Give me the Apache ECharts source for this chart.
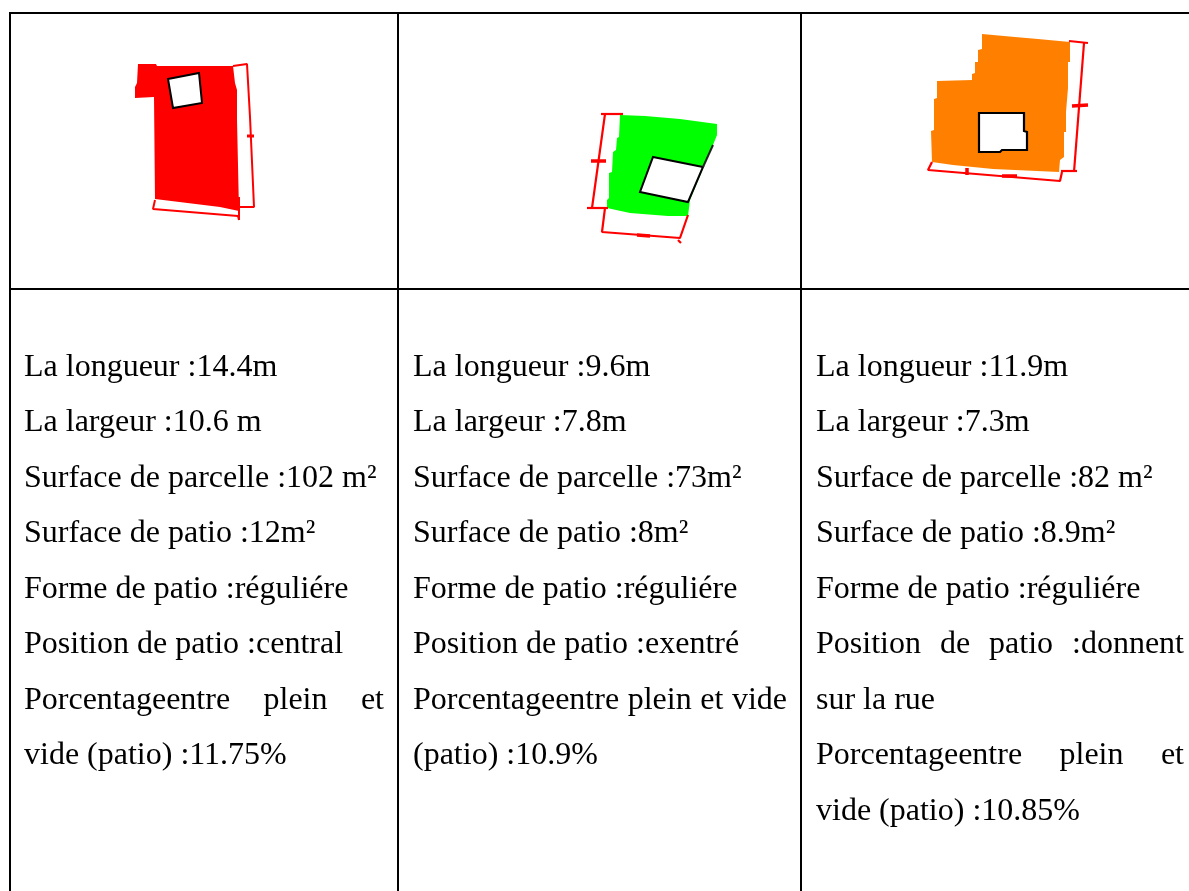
<!DOCTYPE html>
<html><head><meta charset="utf-8">
<style>html,body{margin:0;padding:0;background:#fff}#c{width:1189px;height:891px}</style>
<script src="https://cdn.jsdelivr.net/npm/echarts@6/dist/echarts.min.js"></script>
</head><body><div id="c"></div>
<script>
// Plan shapes (picture pixels)
const redParcel=[[138,64],[156,64],[157,66],[233,66],[235,83],[237,90],[237,120],[238,165],[239,211],[220,207],[155,199],[154,97],[135,98],[135,87],[137,83]];
const redPatio=[[168,79],[199,73],[202,103],[173,108]];
const redLines=[[[233,66],[247,64],[250,117],[254,207],[239,207]],[[155,200],[153,209],[238,216],[239,220]],[[239,197],[239,220]]];
const redTicks=[[[247,136],[254,136]]];
const greenParcel=[[620,115],[645,116],[680,119],[717,124],[717,135],[713,145],[690,200],[688,216],[668,216],[630,213],[607,208],[607,200],[609,198],[609,173],[612,172],[613,152],[616,150],[617,138],[619,137]];
const greenPatio=[[653,157],[703,167],[688,202],[640,192]];
const greenLines=[[[601,114],[623,114]],[[605,114],[592,208]],[[587,208],[608,208]],[[605,208],[602,232],[680,238],[688,215]],[[678,240],[681,243]]];
const greenTicks=[[[591,161],[606,161]],[[637,235],[650,236]]];
const orangeParcel=[[982,34],[1015,37],[1038,39],[1070,42],[1070,62],[1068,62],[1068,88],[1066,112],[1066,132],[1064,132],[1064,157],[1060,160],[1059,172],[993,169],[953,165],[932,162],[931,131],[934,130],[934,99],[937,98],[937,81],[972,80],[972,74],[975,73],[975,62],[978,62],[978,50],[982,49]];
const orangePatio=[[979,113],[1024,113],[1024,131],[1027,132],[1027,150],[1002,150],[1000,152],[979,152]];
const orangeLines=[[[1069,41],[1088,43]],[[1084,43],[1074,172]],[[1061,171],[1077,171]],[[932,162],[928,170],[1060,181],[1062,172]]];
const orangeTicks=[[[1072,106],[1088,105]],[[967,168],[967,175]],[[1002,176],[1017,176]]];
const shapeColors=['#ff0000','#00ff00','#ff8000'];
const lineColor='#ff0000';
// Table rules
const rules=[[[9,13],[1189,13]],[[9,289],[1189,289]],[[10,13],[10,891]],[[398,13],[398,891]],[[801,13],[801,891]]];
// Cell text: each row is a list of words spread across the cell when it has several items
const col1=[["La longueur :14.4m"],["La largeur :10.6 m"],["Surface de parcelle :102 m²"],["Surface de patio :12m²"],["Forme de patio :réguliére"],["Position de patio :central"],["Porcentageentre","plein","et"],["vide (patio) :11.75%"]];
const col2=[["La longueur :9.6m"],["La largeur :7.8m"],["Surface de parcelle :73m²"],["Surface de patio :8m²"],["Forme de patio :réguliére"],["Position de patio :exentré"],["Porcentageentre","plein","et","vide"],["(patio) :10.9%"]];
const col3=[["La longueur :11.9m"],["La largeur :7.3m"],["Surface de parcelle :82 m²"],["Surface de patio :8.9m²"],["Forme de patio :réguliére"],["Position","de","patio",":donnent"],["sur la rue"],["Porcentageentre","plein","et"],["vide (patio) :10.85%"]];
const columns=[{rows:col1,left:24,right:384},{rows:col2,left:413,right:787},{rows:col3,left:816,right:1184}];
const firstRow=367.5,rowStep=55.5,fontSize=32;

const measure=document.createElement('canvas').getContext('2d');
const font=`${fontSize}px "Liberation Serif"`;measure.font=font;
const texts=[];
columns.forEach(c=>c.rows.forEach((words,r)=>{
  const y=firstRow+r*rowStep;
  if(words.length===1){texts.push([c.left,y,words[0]]);return;}
  const total=words.reduce((s,w)=>s+measure.measureText(w).width,0);
  const gap=(c.right-c.left-total)/(words.length-1);
  let x=c.left;
  words.forEach(w=>{texts.push([x,y,w]);x+=measure.measureText(w).width+gap;});
}));
const poly=(name,pts,fill,stroke,w,z)=>({type:'custom',name,coordinateSystem:'cartesian2d',z,silent:true,data:pts,
  renderItem:(p,api)=>{ if(p.dataIndex!==0)return null;
    return {type:'polygon',shape:{points:pts.map(q=>api.coord(q))},style:{fill,stroke,lineWidth:w}};},encode:{x:0,y:1}});
const lines=(name,segs,color,w,z)=>segs.map(s=>({type:'line',name,data:s,symbol:'none',animation:false,z,silent:true,lineStyle:{color,width:w}}));
const series=[
  ...lines('rules',rules,'#000',2,1),
  poly('p1',redParcel,shapeColors[0],null,0,2),poly('p2',greenParcel,shapeColors[1],null,0,2),poly('p3',orangeParcel,shapeColors[2],null,0,2),
  ...lines('r1',redLines,lineColor,2,3),...lines('r2',greenLines,lineColor,2.2,3),...lines('r3',orangeLines,lineColor,2.2,3),
  ...lines('t1',redTicks,lineColor,3,3),...lines('t2',greenTicks,lineColor,3.5,3),...lines('t3',orangeTicks,lineColor,3.5,3),
  poly('a1',redPatio,'#fff','#000',2,4),poly('a2',greenPatio,'#fff','#000',2,4),poly('a3',orangePatio,'#fff','#000',2.2,4),
  ...lines('ext',[[[703,167],[713,145]]],'#222',2,4),
  {type:'custom',name:'text',coordinateSystem:'cartesian2d',z:5,silent:true,data:texts,encode:{x:0,y:1},
   renderItem:(p,api)=>{const d=texts[p.dataIndex],q=api.coord([d[0],d[1]]);
     return {type:'text',x:q[0],y:q[1],style:{text:d[2],font,fill:'#000',textAlign:'left',textVerticalAlign:'middle'}};}}
];
const chart=echarts.init(document.getElementById('c'),null,{renderer:'canvas'});
chart.setOption({animation:false,backgroundColor:'#fff',
  grid:{left:0,right:0,top:0,bottom:0},
  xAxis:{type:'value',min:0,max:1189,show:false},
  yAxis:{type:'value',min:0,max:891,inverse:true,show:false},
  series});
</script></body></html>
